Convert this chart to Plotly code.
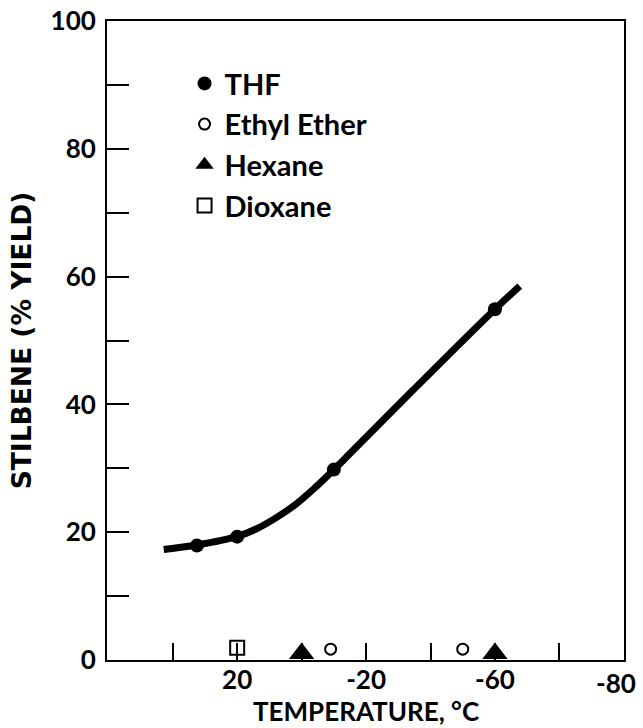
import plotly.graph_objects as go

# THF data points
thf_temp = [32.5, 20, -10, -60]
thf_yield = [17.9, 19.3, 29.8, 54.9]

# smooth fitted curve through THF data
curve_temp = [42.8, 32.5, 20.1, 14.1, 8.1, 2.0, -4.0, -10.0, -14.0, -34.5, -60, -67.7]
curve_yield = [17.3, 18.0, 19.3, 20.5, 22.2, 24.3, 26.9, 29.8, 31.8, 42.2, 54.9, 58.5]

ether_temp = [-9, -50]
ether_yield = [1.7, 1.7]

hexane_temp = [0, -60]
hexane_yield = [1.0, 1.0]

dioxane_temp = [20]
dioxane_yield = [1.9]

x_tickvals = [40, 20, 0, -20, -40, -60, -80, -100]
x_ticktext = ["", "20", "", "-20", "", "-60", "", ""]
# the last label sits under the right frame edge in the original
x_edge_label_pos = -97.5
x_edge_label = "-80"
y_tickvals = [0, 10, 20, 30, 40, 50, 60, 70, 80, 90, 100]
y_ticktext = ["0", "", "20", "", "40", "", "60", "", "80", "", "100"]

FONT = "Lato"
W = "bold"
fig = go.Figure()

fig.add_trace(go.Scatter(x=curve_temp, y=curve_yield, mode="lines",
                         line=dict(color="black", width=7, shape="spline", smoothing=1.0),
                         showlegend=False, hoverinfo="skip"))
fig.add_trace(go.Scatter(x=thf_temp, y=thf_yield, mode="markers", name="THF",
                         marker=dict(symbol="circle", size=14, color="black")))
fig.add_trace(go.Scatter(x=ether_temp, y=ether_yield, mode="markers", name="Ethyl Ether",
                         marker=dict(symbol="circle-open", size=11, color="black", line=dict(width=2, color="black"))))
fig.add_trace(go.Scatter(x=hexane_temp, y=hexane_yield, mode="markers", name="Hexane",
                         marker=dict(symbol="triangle-up", size=22, color="black")))
fig.add_trace(go.Scatter(x=dioxane_temp, y=dioxane_yield, mode="markers", name="Dioxane",
                         marker=dict(symbol="square-open", size=14, color="black", line=dict(width=2, color="black"))))

fig.update_layout(
    width=643, height=728,
    margin=dict(l=107, r=19, t=21, b=68),
    paper_bgcolor="white", plot_bgcolor="white",
    font=dict(family=FONT, color="black", size=26, weight=W),
    legend=dict(x=0.15, y=0.942, xanchor="left", yanchor="top",
                font=dict(family=FONT, size=29, color="black", weight=W),
                bgcolor="rgba(0,0,0,0)", borderwidth=0, tracegroupgap=0),
    xaxis=dict(range=[60.4, -100.05], tickvals=x_tickvals, ticktext=x_ticktext,
               ticks="inside", ticklen=17, tickwidth=2, tickcolor="black",
               showline=True, linewidth=2, linecolor="black", mirror=True,
               showgrid=False, zeroline=False, tickfont=dict(size=26, weight=W),
               automargin=False, ticklabeloverflow="allow", ticklabelstandoff=-4),
    yaxis=dict(range=[0, 100], tickvals=y_tickvals, ticktext=y_ticktext,
               ticks="inside", ticklen=22, tickwidth=2, tickcolor="black",
               showline=True, linewidth=2, linecolor="black", mirror=True,
               showgrid=False, zeroline=False, tickfont=dict(size=26, weight=W),
               automargin=False, ticklabeloverflow="allow", ticklabelstandoff=4,
               title=dict(text="STILBENE (% YIELD)",
                          font=dict(family="DejaVu Sans", size=26.5, weight="bold"), standoff=11)),
    annotations=[
        dict(text="TEMPERATURE, °C", xref="paper", yref="paper",
             x=0.5, y=-(711 - 660) / 639, xanchor="center", yanchor="middle",
             showarrow=False, font=dict(family=FONT, size=26, color="black", weight=W)),
        dict(text=x_edge_label, xref="x", yref="paper",
             x=x_edge_label_pos, y=-(683 - 660) / 639, xanchor="center", yanchor="middle",
             showarrow=False, font=dict(family=FONT, size=26, color="black", weight=W)),
    ],
)

fig.write_html("out.html", config={"displayModeBar": False},
               post_script="document.body.style.margin='0';document.body.style.overflow='hidden';")
